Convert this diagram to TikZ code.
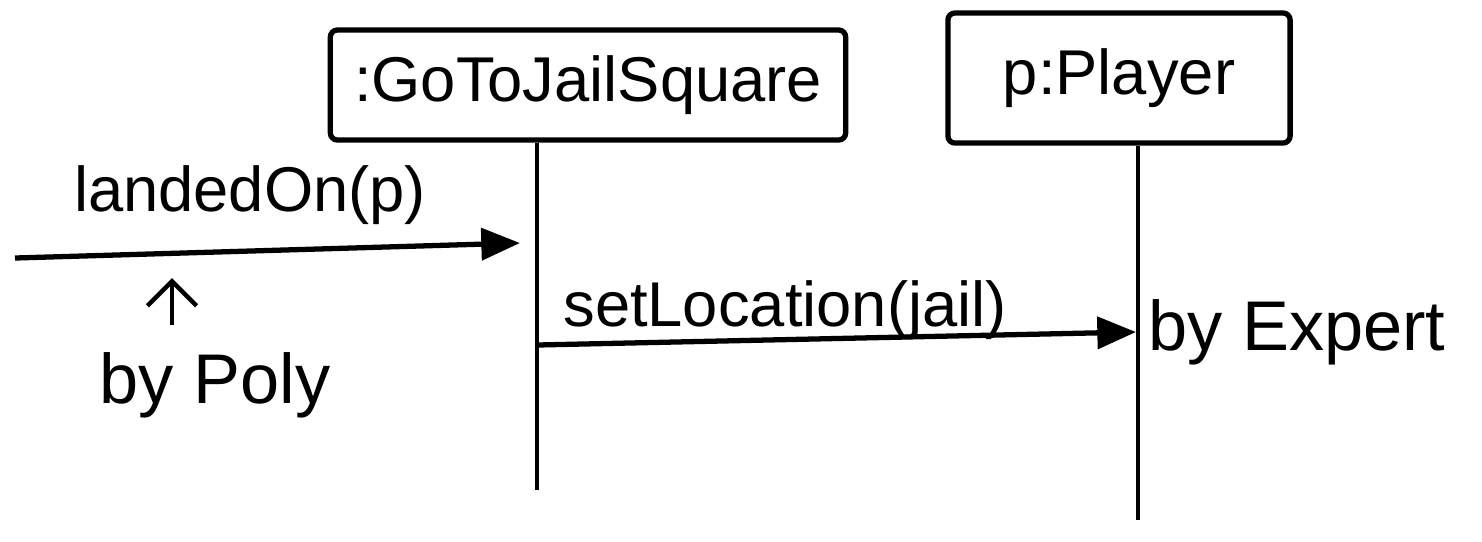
\documentclass[tikz,border=0pt]{standalone}
\usepackage{fontspec}
\setmainfont{Liberation Sans}
\usetikzlibrary{arrows.meta}
\begin{document}
\begin{tikzpicture}[x=0.01cm,y=-0.01cm,
  objbox/.style={draw,line width=1.5pt,rounded corners=2pt,minimum height=1.1cm,inner sep=0pt,font=\fontsize{18}{22}\selectfont},
  lifeline/.style={line width=1.3pt},
  msg/.style={line width=1.5pt,-{Triangle[length=11pt,width=9pt]}},
  hand/.style={font=\fontsize{18}{22}\selectfont,inner sep=0pt}]
\useasboundingbox (0,0) rectangle (1482,541);
\node[objbox,minimum width=5.15cm] (gtj) at (588,85) {:GoToJailSquare};
\node[objbox,minimum width=3.42cm,minimum height=1.3cm] (pl) at (1119,78) {p:Player};
\coordinate (gtjend) at (537,490);
\coordinate (plend) at (1138,520);
\draw[lifeline] (gtj.south -| gtjend) -- (gtjend);
\draw[lifeline] (pl.south -| plend) -- (plend);
\coordinate (start) at (15,258);
\coordinate (in1) at (520,243);
\draw[msg] (start) -- (in1);
\node[hand] (l1) at (250,195) {landedOn(p)};
\coordinate (m2s) at (537,345);
\coordinate (m2e) at (1136,332);
\draw[msg] (m2s) -- (m2e);
\node[hand] (l2) at (785,310) {setLocation(jail)};
\node[hand,font=\fontsize{20}{24}\selectfont] (bp) at (215,385) {by Poly};
\coordinate (up1) at (172,325);
\coordinate (up2) at (172,278);
\draw[line width=1.3pt,-{Straight Barb[length=7pt]}] (up1) -- (up2);
\node[hand,font=\fontsize{20}{24}\selectfont] (be) at (1297,332) {by Expert};
\end{tikzpicture}
\end{document}
